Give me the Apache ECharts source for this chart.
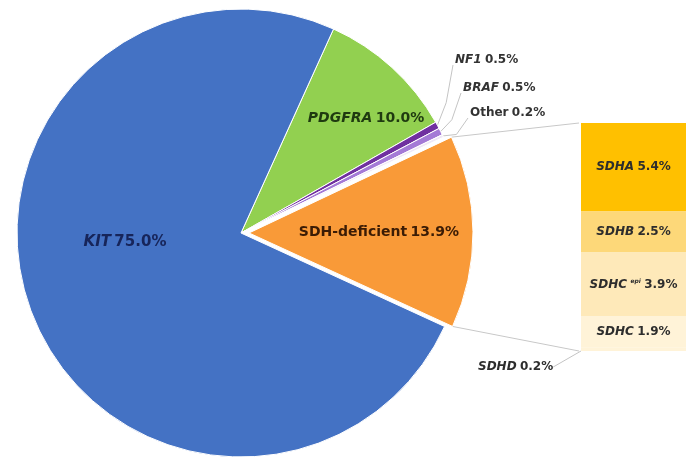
<!DOCTYPE html>
<html><head><meta charset="utf-8">
<script src="https://cdn.jsdelivr.net/npm/echarts@6/dist/echarts.min.js"></script>
<style>html,body{margin:0;padding:0;background:#fff}#c{width:686px;height:459px}</style>
</head><body><div id="c"></div>
<script>
// ---- data ----
const pieNames = ['PDGFRA', 'NF1', 'BRAF', 'Other', 'SDH-deficient', 'KIT'];
const pieValues = [10.0, 0.5, 0.5, 0.2, 13.9, 75.0];
const pieLabels = ['10.0%', '0.5%', '0.5%', '0.2%', '13.9%', '75.0%'];
const barNames = ['SDHA', 'SDHB', 'SDHC', 'SDHC', 'SDHD'];
const barSup = ['', '', 'epi', '', ''];
const barValues = [5.4, 2.5, 3.9, 1.9, 0.2];
const barLabels = ['5.4%', '2.5%', '3.9%', '1.9%', '0.2%'];

// ---- styles / positions ----
const italicNames = {PDGFRA: 1, NF1: 1, BRAF: 1, KIT: 1};
const pieColors = ['#92d050', '#7030a0', '#a47ad6', '#efe8f6', '#f99a38', '#4472c4'];
const pieTextColors = ['#1f3a10', '#333', '#333', '#333', '#3b1c05', '#17255a'];
const pieFont = [14, 12, 12, 12, 14, 15];
const outsideIdx = {1: 1, 2: 1, 3: 1};
const labelPos = [[366, 118], [455, 60], [463, 88], [470, 113], null, [125, 242]];
const labelPad = [0, 0, 0, 0, 30, 0];
const barColors = ['#ffc000', '#fdd879', '#fee9b9', '#fff3d8', '#fff3d8'];
const FONT = 'DejaVu Sans';

const chart = echarts.init(document.getElementById('c'));

function rich(size, color) {
  return {
    it: {fontFamily: FONT, fontWeight: 'bold', fontStyle: 'italic', fontSize: size, color: color},
    n: {fontFamily: FONT, fontWeight: 'bold', fontSize: size, color: color},
    sup: {fontFamily: FONT, fontWeight: 'bold', fontStyle: 'italic', fontSize: 6, color: color, padding: [0, 0, 6, 0]}
  };
}

const pieData = pieNames.map((n, i) => {
  const nameTag = italicNames[n] ? 'it' : 'n';
  return {
    name: n, value: pieValues[i], selected: n === 'SDH-deficient',
    itemStyle: {color: pieColors[i]},
    label: {
      show: true,
      position: outsideIdx[i] ? 'outside' : 'inside',
      padding: [0, 0, 0, labelPad[i]],
      formatter: '{' + nameTag + '|' + n + '} {n|' + pieLabels[i] + '}',
      rich: rich(pieFont[i], pieTextColors[i])
    },
    labelLine: {show: !!outsideIdx[i], length: 10, length2: 10, lineStyle: {color: '#c4c4c4', width: 1}}
  };
});

const barSeries = barNames.map((n, i) => ({
  type: 'bar', xAxisIndex: 0, yAxisIndex: 0, stack: 'sdh', barWidth: '100%',
  name: n + barSup[i],
  data: [barValues[i]],
  itemStyle: {color: barColors[i]},
  label: {
    show: true, position: 'inside',
    formatter: '{it|' + n + '}' + (barSup[i] ? ' {sup|' + barSup[i] + '}' : '') + ' {n|' + barLabels[i] + '}',
    rich: rich(12, '#2d2d2d')
  },
  labelLine: {show: i === 4, lineStyle: {color: '#c4c4c4', width: 1}},
  labelLayout: i === 4 ? function (p) {
    const x0 = p.rect.x, y0 = p.rect.y + p.rect.height;
    return {x: 478, y: 367, align: 'left', verticalAlign: 'middle',
      labelLinePoints: [[x0, y0], [x0 - 10, y0 + 10], [558, 370]]};
  } : null,
  emphasis: {disabled: true},
  animation: false
}));

const barTotal = barValues.reduce((a, b) => a + b, 0);

chart.setOption({
  animation: false,
  grid: [{left: 581, width: 109, top: 123, bottom: 108}],
  xAxis: [{type: 'category', data: ['SDH'], show: false, gridIndex: 0}],
  yAxis: [{type: 'value', min: 0, max: barTotal, inverse: true, show: false, gridIndex: 0}],
  series: [{
    type: 'pie', center: [241, 233], radius: 224, startAngle: 65.6, clockwise: true,
    selectedMode: 'single', selectedOffset: 8, avoidLabelOverlap: false,
    itemStyle: {borderColor: '#fff', borderWidth: 1},
    select: {itemStyle: {borderColor: '#fff', borderWidth: 1}},
    emphasis: {disabled: true},
    data: pieData,
    labelLayout: function (p) {
      const i = p.dataIndex;
      const pos = labelPos[i];
      if (!pos) return {};
      if (outsideIdx[i]) {
        const p0 = p.labelLinePoints ? p.labelLinePoints[0] : [pos[0], pos[1]];
        return {x: pos[0], y: pos[1], align: 'left', verticalAlign: 'middle',
          labelLinePoints: [p0, [(p0[0] + pos[0]) / 2, (p0[1] + pos[1]) / 2 + 10], [pos[0] - 2, pos[1] + 5]]};
      }
      return {x: pos[0], y: pos[1], align: 'center', verticalAlign: 'middle'};
    },
    animation: false
  }].concat(barSeries)
});

// connector lines from the exploded slice to the bar (geometry from data)
const total = pieValues.reduce((a, b) => a + b, 0);
const k = 360 / total;
let cum = 0;
for (let i = 0; i < 4; i++) cum += pieValues[i];
const a1 = (65.6 - cum * k) * Math.PI / 180;
const a2 = (65.6 - (cum + pieValues[4]) * k) * Math.PI / 180;
const am = (a1 + a2) / 2;
const cx = 241 + 8 * Math.cos(am), cy = 233 - 8 * Math.sin(am), R = 224;
const topPt = [cx + R * Math.cos(a1), cy - R * Math.sin(a1)];
const botPt = [cx + R * Math.cos(a2), cy - R * Math.sin(a2)];
const barLeft = chart.convertToPixel({xAxisIndex: 0}, 'SDH') - 109 / 2;
const barTop = chart.convertToPixel({yAxisIndex: 0}, 0);
const barBot = chart.convertToPixel({yAxisIndex: 0}, barTotal);
chart.setOption({
  graphic: [
    {type: 'line', shape: {x1: topPt[0], y1: topPt[1], x2: barLeft, y2: barTop}, style: {stroke: '#c8c8c8', lineWidth: 1}, silent: true},
    {type: 'line', shape: {x1: botPt[0], y1: botPt[1], x2: barLeft, y2: barBot}, style: {stroke: '#c8c8c8', lineWidth: 1}, silent: true}
  ]
});
</script>
</body></html>
